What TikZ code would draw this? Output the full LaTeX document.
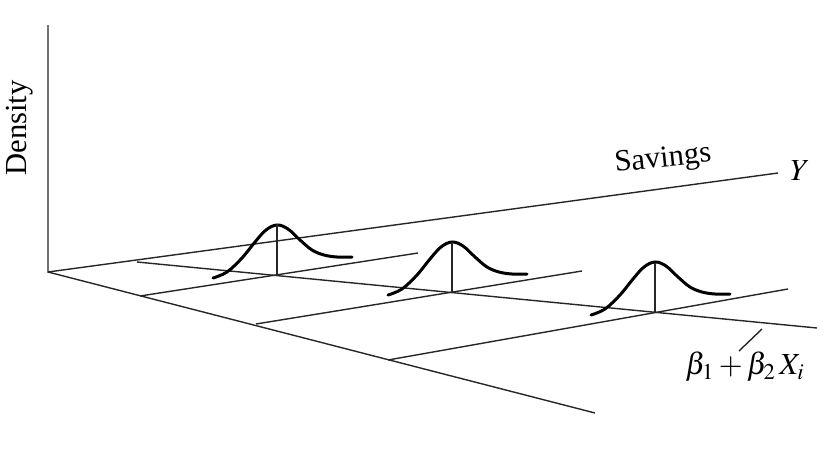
\documentclass[tikz,border=0pt]{standalone}
\usepackage{mathptmx}
\usepackage{fontspec}
\setmainfont{Liberation Serif}
\usetikzlibrary{calc}

\begin{document}
\begin{tikzpicture}[x=0.5pt, y=-0.5pt,
  axis/.style={draw=black!85, line width=0.7pt},
  bellcurve/.style={draw=black, line width=1.5pt, line cap=round},
  lbl/.style={font=\fontsize{15.3}{18}\selectfont, inner sep=0pt},
  bell/.pic={
    \draw[bellcurve] plot[smooth, tension=0.6] coordinates {
      (-64,3) (-50,-3) (-35,-17) (-22,-33) (-11,-45) (0,-50) (11,-46)
      (23,-35) (35,-25) (47,-20) (60,-18) (75,-18)};
  }]
\useasboundingbox (0,0) rectangle (832,450);

% axes
\coordinate (O)    at (48,272);
\coordinate (top)  at (48,25);
\coordinate (yend) at (778,173);
\coordinate (xend) at (595,413);
\draw[axis] (top) -- (O) -- (yend);
\draw[axis] (O) -- (xend);

% regression line and grid lines through the means
\coordinate (r0) at (137,262);
\coordinate (r1) at (817,328);
\draw[axis] (r0) -- (r1);
\coordinate (b1) at (277,275);
\coordinate (b2) at (452,292);
\coordinate (b3) at (655,312);
\draw[axis] (140,296) coordinate (g1) -- (418,253) coordinate (h1);
\draw[axis] (256,324) coordinate (g2) -- (582,271) coordinate (h2);
\draw[axis] (388,360) coordinate (g3) -- (788,289) coordinate (h3);

% densities
\foreach \i/\h in {1/51, 2/50, 3/49} {
  \pic at (b\i) {bell};
  \coordinate (p\i) at ($(b\i)+(0,-\h)$);
  \draw[axis] (b\i) -- (p\i);
}

% labels
\node[lbl, rotate=90] (dens) at (20,128) {Density};
\node[lbl, rotate=6] (sav) at (663,160) {Savings};
\node[lbl] (ylab) at (800,171) {$Y$};
\node[lbl] (reg) at (745,367) {$\beta_1 + \beta_2\,X_i$};
\coordinate (lead) at (762,329);
\draw[axis] (739,351) -- (lead);
\end{tikzpicture}
\end{document}
